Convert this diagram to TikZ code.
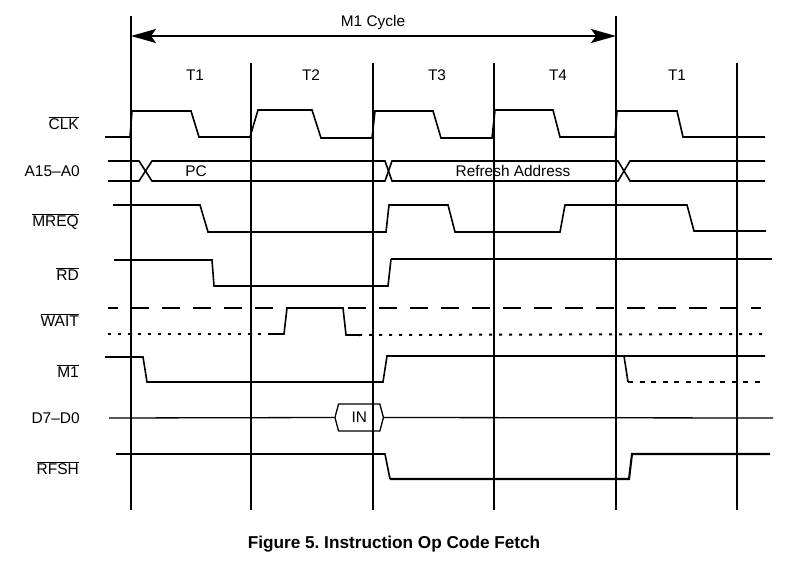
\documentclass[tikz,border=0pt]{standalone}
\usepackage{fontspec}
\setmainfont{Liberation Sans}
\usetikzlibrary{arrows.meta,shapes.symbols}
\newcommand\ovl[1]{\ensuremath{\overline{\mbox{#1}}}}
\frenchspacing
\begin{document}
\begin{tikzpicture}[x=1pt,y=-1pt,
  sig/.style={line width=1.6pt,line join=miter},
  sigthick/.style={line width=2.1pt,line join=miter},
  gridthick/.style={line width=2pt},
  gridthin/.style={line width=1.1pt},
  lbl/.style={anchor=base east,inner sep=0pt,font=\fontsize{15.5}{18}\selectfont},
  txt/.style={anchor=base,inner sep=0pt,font=\fontsize{15.4}{18}\selectfont},
  dashbig/.style={line width=2pt,dash pattern=on 18pt off 13pt,dash phase=8pt},
  dotsmall/.style={line width=2pt,dash pattern=on 3pt off 7pt},
  dashthin/.style={line width=1.1pt,dash pattern=on 5pt off 6.5pt},
  cyc/.style={line width=1.6pt,{Stealth[length=25pt,width=14pt,inset=5pt]}-{Stealth[length=25pt,width=14pt,inset=5pt]}}
]
\useasboundingbox[fill=white] (0,0) rectangle (795,567);

% grid lines
\draw[gridthin]  (131,16) -- (131,510);
\draw[gridthick] (251,63) -- (251,510);
\draw[gridthick] (373,63) -- (373,510);
\draw[gridthin]  (494,63) -- (494,510);
\draw[gridthin]  (616,16) -- (616,510);
\draw[gridthick] (737,63) -- (737,510);

% M1 cycle arrow
\coordinate (cycS) at (131,36);
\coordinate (cycE) at (616,36);
\draw[cyc] (cycS) -- (cycE);
\node[txt] (m1cyc) at (373,26.5) {M1 Cycle};

% T labels
\node[txt] (t1a) at (195,81) {T1};
\node[txt] (t2)  at (311,81) {T2};
\node[txt] (t3)  at (437,81) {T3};
\node[txt] (t4)  at (558,81) {T4};
\node[txt] (t1b) at (677,81) {T1};

% signal labels
\node[lbl] (lclk)  at (79,129.3) {\ovl{CLK}};
\node[lbl] (laddr) at (80,176.7) {A15–A0};
\node[lbl] (lmreq) at (79,226) {\ovl{MREQ}};
\node[lbl] (lrd)   at (79,280) {\ovl{RD}};
\node[lbl] (lwait) at (79,326.7) {\ovl{WAIT}};
\node[lbl] (lm1)   at (79,377.3) {\ovl{M1}};
\node[lbl] (ldata) at (80,423.3) {D7–D0};
\node[lbl] (lrfsh) at (79,474.3) {\ovl{RFSH}};

% CLK
\draw[sig] (105,137) -- (130,137) -- (132,111) -- (191,111) -- (199,137) -- (250,137)
  -- (258,110) -- (312,110) -- (321,138) -- (372,138) -- (375,111) -- (433,111)
  -- (441,138) -- (492,138) -- (495,110) -- (553,110) -- (560,137) -- (615,137)
  -- (617,111) -- (677,111) -- (683,137) -- (765,137);

% Address bus
\draw[sig] (108,161) -- (139,161) -- (152,181) -- (385,181) -- (392,161) -- (618,161) -- (630,181) -- (765,181);
\draw[sig] (108,181) -- (139,181) -- (152,161) -- (385,161) -- (392,181) -- (618,181) -- (630,161) -- (765,161);
\node[txt] (pc) at (196,176.7) {PC};
\node[txt] (refr) at (513,176.7) {Refresh Address};

% MREQ
\draw[sig] (113,205) -- (200,205) -- (208,232) -- (386,232) -- (389,205) -- (448,205)
  -- (455,232) -- (560,232) -- (565,205) -- (687,205) -- (694,231) -- (766,231);

% RD
\draw[sig] (114,260) -- (212,260) -- (214,286) -- (388,286) -- (391,259);
\draw[sigthick] (391,259) -- (772,259);

% WAIT
\draw[dashbig] (108,308) -- (761,308);
\draw[dotsmall] (108,334) -- (270,334);
\draw[sig] (270,334) -- (284,334) -- (287,308) -- (343,308) -- (346,335) -- (359,335);
\draw[dotsmall] (359,335) -- (763,334);

% M1
\draw[sig] (105,357) -- (143,357) -- (147,382) -- (383,382) -- (387,356) -- (765,356);
\draw[sig] (624,356) -- (628,382);
\draw[dashthin] (628,382) -- (765,382);

% D7-D0
\node[signal,signal to=west and east,signal pointer angle=150,draw,line width=1.3pt,
  minimum width=48.5pt,minimum height=27pt,inner sep=0pt,
  font=\fontsize{15.4}{18}\selectfont] (in) at (359.2,417.5) {IN};
\coordinate (dS) at (109,418);
\coordinate (dE) at (773,418);
\draw[line width=1.3pt] (dS) -- (in.west);
\draw[line width=1.3pt] (in.east) -- (dE);

% RFSH
\draw[sig] (116,454) -- (385,454) -- (390,479);
\draw[sigthick] (390,479) -- (629,479) -- (632,454) -- (770,454);

% caption
\node[anchor=base,inner sep=0pt,font=\bfseries\fontsize{17.2}{20}\selectfont] (cap) at (394,548.3) {Figure 5. Instruction Op Code Fetch};
\end{tikzpicture}
\end{document}
